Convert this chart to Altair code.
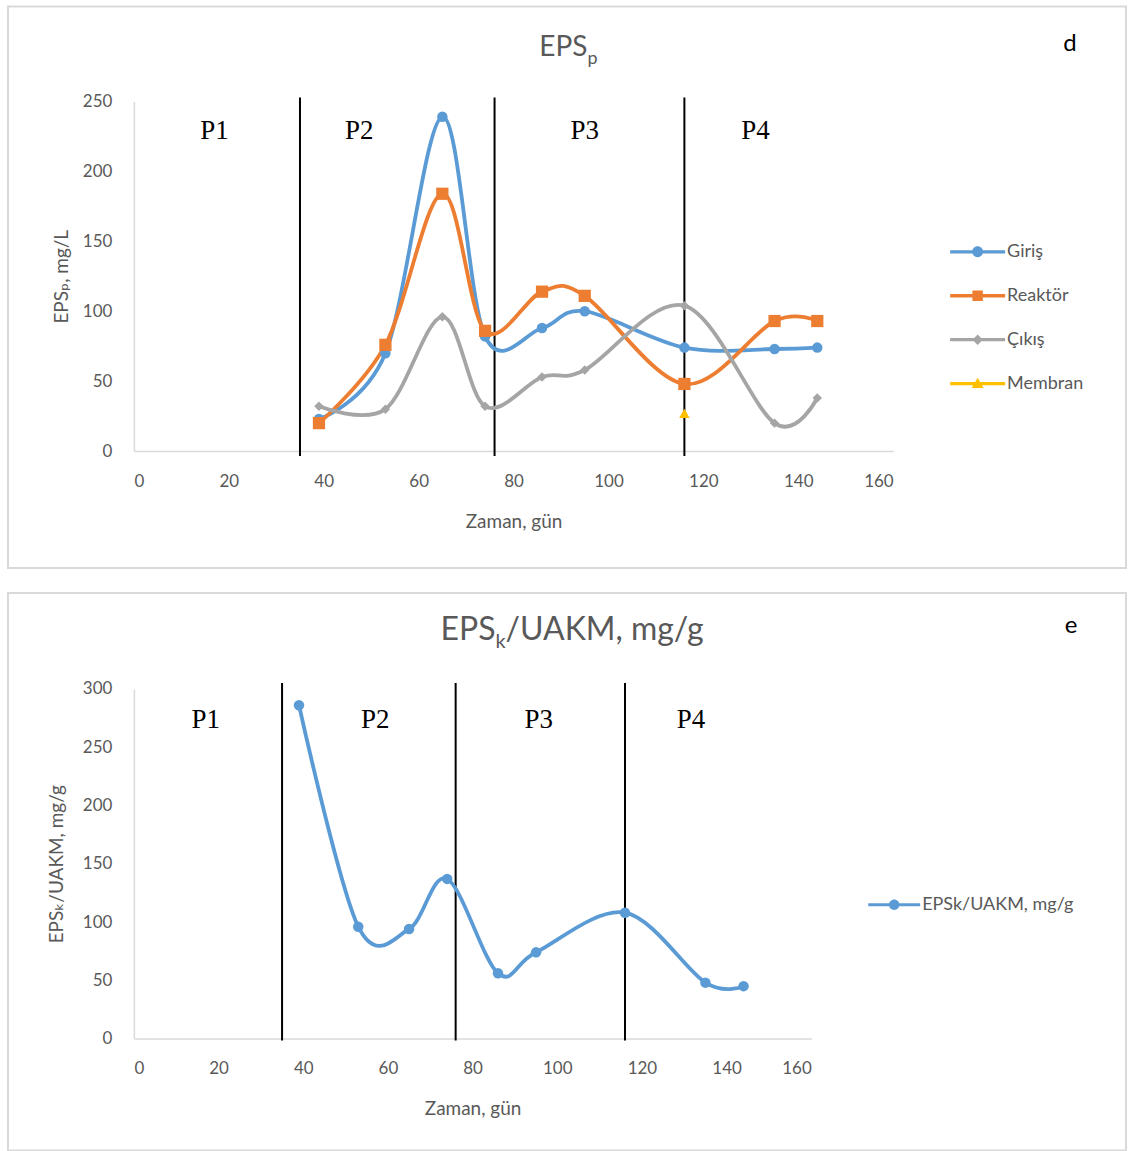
import altair as alt
import pandas as pd

# ---------------- data ----------------
days = [39, 53, 65, 74, 86, 95, 116, 135, 144]
giris = [23, 70, 239, 82, 88, 100, 74, 73, 74]
reaktor = [20, 76, 184, 86, 114, 111, 48, 93, 93]
cikis = [32, 30, 96, 32, 53, 58, 104, 20, 38]
membran_days = [116]
membran = [27]
eps_k_uakm = [286, 96, 94, 137, 56, 74, 108, 48, 45]

series_names = ["Giriş", "Reaktör", "Çıkış", "Membran"]
series_colors = ["#5B9BD5", "#ED7D31", "#A5A5A5", "#FFC000"]
marker_shapes = ["circle", "square", "diamond", "triangle-up"]
marker_sizes = [110, 150, 90, 110]

period_bounds = [35, 76, 116]
period_labels = ["P1", "P2", "P3", "P4"]
period_label_days_d = [17, 47.5, 95, 131]
period_label_val_d = 229
period_label_days_e = [17, 57, 95.6, 131.6]
period_label_val_e = 273

x_ticks = [0, 20, 40, 60, 80, 100, 120, 140, 160]
y_ticks_d = [0, 50, 100, 150, 200, 250]
y_ticks_e = [0, 50, 100, 150, 200, 250, 300]

legend_e_name = "EPSk/UAKM, mg/g"

# legend symbols: a line with a marker on it
LINE = "M-1,-0.06H1V0.06H-1Z"
legend_paths = [
    LINE + "M0.2,0A0.2,0.2,0,1,1,-0.2,0A0.2,0.2,0,1,1,0.2,0Z",
    LINE + "M-0.19,-0.19H0.19V0.19H-0.19Z",
    LINE + "M0,-0.19L0.19,0L0,0.19L-0.19,0Z",
    LINE + "M0,-0.22L0.22,0.16L-0.22,0.16Z",
]

FONT = "Lato, DejaVu Sans"
GREY_TXT = "#595959"

# ---------------- tables ----------------
rows = []
for name, vals in zip(series_names[:3], [giris, reaktor, cikis]):
    for d, v in zip(days, vals):
        rows.append({"series": name, "day": d, "value": v})
for d, v in zip(membran_days, membran):
    rows.append({"series": "Membran", "day": d, "value": v})
df_d = pd.DataFrame(rows)
df_e = pd.DataFrame({"day": days, "value": eps_k_uakm, "series": [legend_e_name] * len(days)})
df_bounds = pd.DataFrame({"day": period_bounds})
df_plab_d = pd.DataFrame({"day": period_label_days_d, "value": [period_label_val_d] * 4, "label": period_labels})
df_plab_e = pd.DataFrame({"day": period_label_days_e, "value": [period_label_val_e] * 4, "label": period_labels})
one = alt.Data(values=[{"k": 1}])


def make_series_layers(df, names, colors, shapes, sizes):
    out = []
    for n, c in zip(names, colors):
        out.append(lambda X, Y, n=n, c=c: alt.Chart(df).transform_filter(alt.datum.series == n).mark_line(
            color=c, strokeWidth=3.8, interpolate="cardinal", tension=0).encode(x=X, y=Y))
    for n, c, s, z in zip(names, colors, shapes, sizes):
        out.append(lambda X, Y, n=n, c=c, s=s, z=z: alt.Chart(df).transform_filter(alt.datum.series == n).mark_point(
            shape=s, filled=True, size=z, color=c, opacity=1).encode(x=X, y=Y))
    return out


def legend_layer(field, names, colors, paths, x, y, size):
    common = dict(title=None, orient="none", legendX=x, legendY=y, labelFont=FONT, labelFontSize=18,
                  labelColor=GREY_TXT, symbolStrokeWidth=0, labelOffset=2, rowPadding=7,
                  symbolSize=size)
    return alt.Chart(pd.DataFrame({field: names})).transform_filter("false").mark_point(
        filled=True, size=size, opacity=1).encode(
        color=alt.Color(f"{field}:N", scale=alt.Scale(domain=names, range=colors),
                        legend=alt.Legend(**common)),
        shape=alt.Shape(f"{field}:N", scale=alt.Scale(domain=names, range=paths),
                        legend=alt.Legend(**common)),
    )


def panel(W, H, y_dom, y_ticks, y_title, y_title_pad, box, title_parts, letter, letter_pos,
          line_layers, leg, plab_df, rule_top, rule_bot):
    xs = alt.Scale(domain=[0, 160], nice=False, zero=False)
    ys = alt.Scale(domain=y_dom, nice=False)
    X = alt.X("day:Q", scale=xs, axis=alt.Axis(values=x_ticks, title="Zaman, gün"))
    Y = alt.Y("value:Q", scale=ys, axis=alt.Axis(values=y_ticks, title=y_title, titlePadding=y_title_pad))

    layers = []
    bx0, bx1, by0, by1 = box
    layers.append(
        alt.Chart(one).mark_rect(fill="white", fillOpacity=0, stroke="#D9D9D9", strokeWidth=2).encode(
            x=alt.value(bx0), x2=alt.value(bx1), y=alt.value(by0), y2=alt.value(by1)
        )
    )
    for txt, px, py, size, align in title_parts:
        layers.append(
            alt.Chart(one).mark_text(text=txt, font=FONT, fontSize=size, color=GREY_TXT,
                                     align=align, baseline="alphabetic").encode(
                x=alt.value(px), y=alt.value(py))
        )
    layers.append(
        alt.Chart(one).mark_text(text=letter, font=FONT, fontSize=24, color="black",
                                 align="center", baseline="alphabetic").encode(
            x=alt.value(letter_pos[0]), y=alt.value(letter_pos[1]))
    )
    layers.append(
        alt.Chart(df_bounds).mark_rule(color="black", strokeWidth=2).encode(
            x=X, y=alt.value(rule_top), y2=alt.value(rule_bot))
    )
    layers.append(
        alt.Chart(plab_df).mark_text(font="Liberation Serif", fontSize=27, color="black",
                                     align="center", baseline="middle").encode(
            x=X, y=Y, text="label:N")
    )
    for ll in line_layers:
        layers.append(ll(X, Y))
    layers.append(leg)
    return alt.layer(*layers).properties(width=W, height=H)


# plot origin of both panels at x = 133 px on the page
top = panel(
    760, 350, [0, 250], y_ticks_d, "EPSₚ, mg/L", 11,
    (-126, 993, -95, 467),
    [("EPS", 454, -45, 28, "right"), ("p", 454, -37, 18, "left")],
    "d", (937, -50),
    make_series_layers(df_d, series_names, series_colors, marker_shapes, marker_sizes),
    legend_layer("series", series_names, series_colors, legend_paths, 817, 123, 3025),
    df_plab_d, -4, 355,
)

bottom = panel(
    678, 350, [0, 300], y_ticks_e, "EPSₖ/UAKM, mg/g", 16,
    (-126, 993, -96, 462),
    [("EPS", 362, -49, 32, "right"), ("k", 362, -41, 20, "left"), ("/UAKM, mg/g", 372, -49, 32, "left")],
    "e", (938, -56),
    make_series_layers(df_e, [legend_e_name], [series_colors[0]], ["circle"], [110]),
    legend_layer("series_e", [legend_e_name], [series_colors[0]], [legend_paths[0]], 735, 190, 2704),
    df_plab_e, -6, 352,
)

chart = alt.vconcat(top, bottom, spacing=21).resolve_scale(
    color="independent", shape="independent", x="independent", y="independent"
).resolve_legend(color="independent", shape="independent").properties(
    padding={"left": 6, "top": 4, "right": 0, "bottom": 0}
).configure_view(stroke="transparent").configure_axis(
    grid=False, ticks=False, domainColor="#D9D9D9", domainWidth=1.5,
    labelFont=FONT, labelFontSize=17, labelColor=GREY_TXT, labelPadding=22,
    titleFont=FONT, titleFontSize=19, titleFontWeight="normal", titleColor=GREY_TXT, titlePadding=23,
)

chart.save("out.html", embed_options={"renderer": "svg", "actions": False})
